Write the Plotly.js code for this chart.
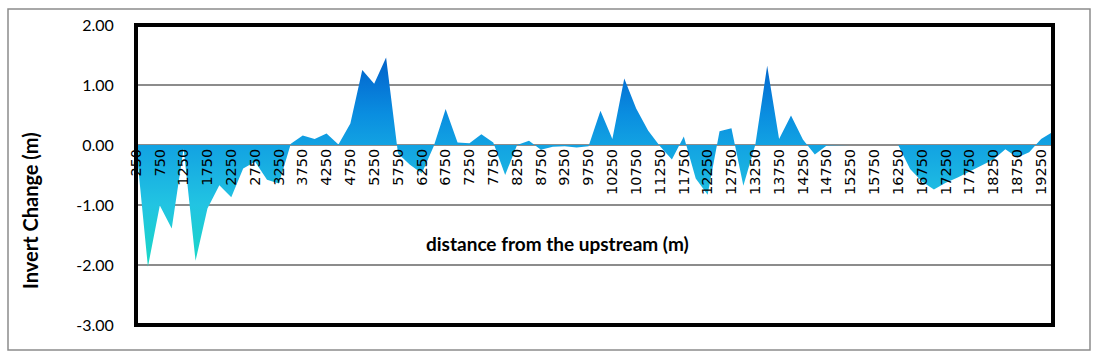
<!DOCTYPE html>
<html>
<head>
<meta charset="utf-8">
<script src="https://cdn.plot.ly/plotly-3.0.1.min.js"></script>
<style>html,body{margin:0;padding:0;background:#fff;}#chart{width:1098px;height:357px;}</style>
</head>
<body>
<div id="chart"></div>
<script>
const distances = [250,500,750,1000,1250,1500,1750,2000,2250,2500,2750,3000,3250,3500,3750,4000,4250,4500,4750,5000,5250,5500,5750,6000,6250,6500,6750,7000,7250,7500,7750,8000,8250,8500,8750,9000,9250,9500,9750,10000,10250,10500,10750,11000,11250,11500,11750,12000,12250,12500,12750,13000,13250,13500,13750,14000,14250,14500,14750,15000,15250,15500,15750,16000,16250,16500,16750,17000,17250,17500,17750,18000,18250,18500,18750,19000,19250,19500];
const invertChange = [0,-2.03,-1.01,-1.39,-0.06,-1.93,-1.06,-0.67,-0.87,-0.39,-0.28,-0.58,-0.64,0.02,0.16,0.10,0.19,0.01,0.36,1.25,1.02,1.46,-0.14,-0.33,-0.47,-0.02,0.60,0.04,0.03,0.18,0.04,-0.50,0.0,0.07,-0.08,-0.03,-0.02,-0.04,-0.02,0.57,0.10,1.11,0.61,0.24,-0.02,-0.24,0.14,-0.56,-0.83,0.23,0.28,-0.68,0.0,1.32,0.10,0.49,0.09,-0.16,-0.01,0,0,0,0,0,0,-0.40,-0.61,-0.74,-0.63,-0.54,-0.44,-0.34,-0.24,-0.07,-0.21,-0.12,0.10,0.22];
const tickLabels = ["250","750","1250","1750","2250","2750","3250","3750","4250","4750","5250","5750","6250","6750","7250","7750","8250","8750","9250","9750","10250","10750","11250","11750","12250","12750","13250","13750","14250","14750","15250","15750","16250","16750","17250","17750","18250","18750","19250"];
const yTicks = [-3,-2,-1,0,1,2];
const yTickText = ["-3.00","-2.00","-1.00","0.00","1.00","2.00"];

const trace = {
  x: distances,
  y: invertChange,
  type: 'scatter',
  mode: 'lines',
  line: {width: 0, color: '#12a2e2'},
  fill: 'tozeroy',
  fillgradient: {
    type: 'vertical',
    start: -2.05,
    stop: 1.46,
    colorscale: [[0,'#18d8c4'],[0.3,'#22c4e2'],[0.584,'#12a2e2'],[0.73,'#0a8ee0'],[0.87,'#0676d6'],[1,'#0062c8']]
  },
  hoverinfo: 'x+y'
};

const layout = {
  width: 1098, height: 357,
  margin: {l: 136, r: 45, t: 25, b: 32, pad: 0},
  paper_bgcolor: '#fff', plot_bgcolor: '#fff',
  showlegend: false,
  xaxis: {
    range: [distances[0], distances[distances.length-1]],
    anchor: 'free', position: 0.6,
    tickmode: 'array',
    tickvals: tickLabels.map(Number),
    ticktext: tickLabels,
    tickangle: -90,
    ticks: '',
    showgrid: false, zeroline: false, showline: false,
    tickfont: {family: 'DejaVu Sans', size: 14.5, color: '#000'}
  },
  yaxis: {
    range: [-3, 2],
    tickmode: 'array',
    tickvals: yTicks,
    ticktext: yTickText,
    ticks: 'outside', ticklen: 0,
    ticklabelstandoff: 18,
    showgrid: true, gridcolor: '#8c8c8c', gridwidth: 1.5,
    zeroline: true, zerolinecolor: '#8c8c8c', zerolinewidth: 1.5,
    showline: false,
    tickfont: {family: 'Lato', size: 16, color: '#000'}
  },
  shapes: [
    {type: 'rect', xref: 'paper', yref: 'paper', x0: 0, x1: 1, y0: 0, y1: 1,
     line: {color: '#000', width: 4}, layer: 'above'},
    {type: 'rect', xref: 'paper', yref: 'paper', x0: (8-136)/917, x1: (1090-136)/917, y0: (325-350)/300, y1: (325-9)/300,
     line: {color: '#8c8c8c', width: 1.5}, layer: 'below'}
  ],
  annotations: [
    {text: '<b>Invert Change (m)</b>', xref: 'paper', yref: 'paper', x: (30-136)/917, y: (325-211)/300,
     textangle: -90, showarrow: false, xanchor: 'center', yanchor: 'middle',
     font: {family: 'Lato', size: 20, color: '#000'}},
    {text: '<b>distance from the upstream (m)</b>', xref: 'paper', yref: 'paper', x: (557-136)/917, y: (325-243)/300,
     showarrow: false, xanchor: 'center', yanchor: 'middle',
     font: {family: 'Lato', size: 19, color: '#000'}}
  ]
};

Plotly.newPlot('chart', [trace], layout, {staticPlot: true, displayModeBar: false});
</script>
</body>
</html>
